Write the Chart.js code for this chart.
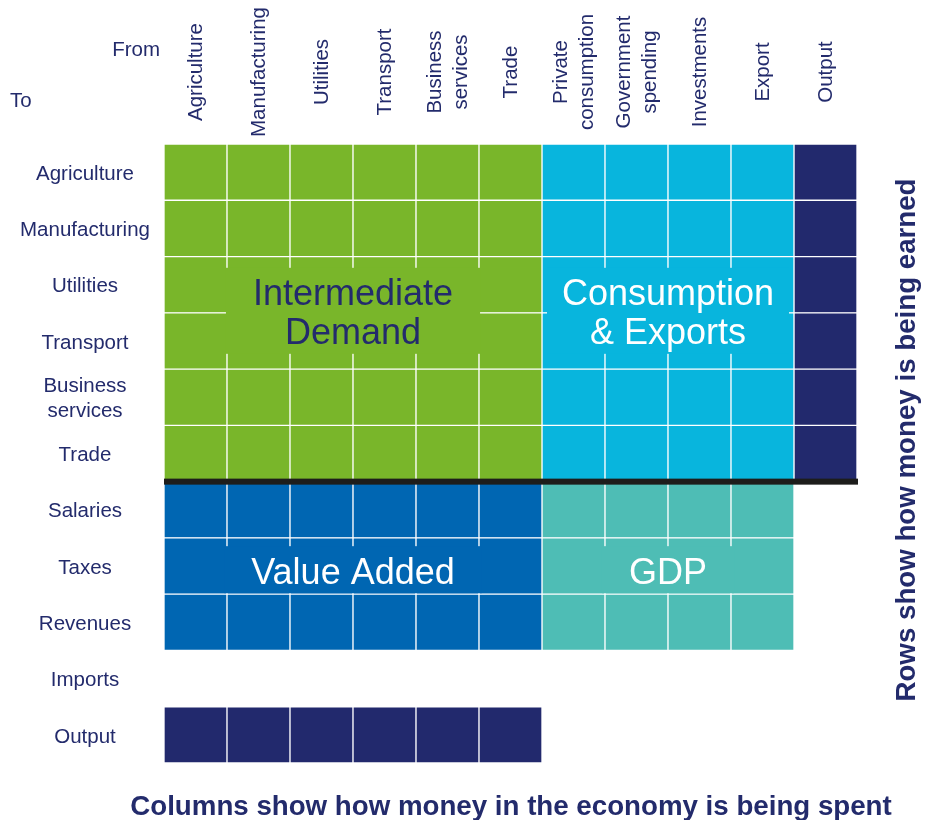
<!DOCTYPE html>
<html>
<head>
<meta charset="utf-8">
<script src="https://cdn.jsdelivr.net/npm/chart.js@4.4.1/dist/chart.umd.min.js"></script>
<style>
  html, body { margin: 0; padding: 0; background: #fff; }
  #wrap { width: 925px; height: 820px; }
</style>
</head>
<body>
<div id="wrap"><canvas id="io" width="925" height="820"></canvas></div>
<script>
// Input-output table layout
// =========================

var industries = ['Agriculture', 'Manufacturing', 'Utilities', 'Transport', 'Business services', 'Trade'];
var finalUses = ['Private consumption', 'Government spending', 'Investments', 'Export'];
var valueAddedRows = ['Salaries', 'Taxes', 'Revenues'];

var columnLabels = industries.concat(finalUses, ['Output']);
var rowLabels = industries.concat(valueAddedRows, ['Imports', 'Output']);

// which rows x columns each block fills
var intermediateCells = { rows: industries, cols: industries };
var finalDemandCells = { rows: industries, cols: finalUses };
var outputColCells = { rows: industries, cols: ['Output'] };
var valueAddedCells = { rows: valueAddedRows, cols: industries };
var gdpCells = { rows: valueAddedRows, cols: finalUses };
var outputRowCells = { rows: ['Output'], cols: industries };

var blockTitles = {
    intermediate: ['Intermediate', 'Demand'],
    finalDemand: ['Consumption', '& Exports'],
    valueAdded: ['Value Added'],
    gdp: ['GDP']
};

var rowTitle = 'Rows show how money is being earned';
var colTitle = 'Columns show how money in the economy is being spent';

// colours
var GREEN = '#79b62a', CYAN = '#08b5dd', NAVY = '#22296d',
    BLUE = '#0066b2', TEAL = '#4ebdb5', INK = '#232b6c';
var FONT = '"Liberation Sans", Arial, sans-serif';
var NUDGE = 2; // canvas 'middle' sits a little high

function cells(block) {
    var out = [];
    block.rows.forEach(function (r) {
        var ri = rowLabels.indexOf(r);
        block.cols.forEach(function (c) {
            out.push({ x: c, y: [ri, ri + 1] });
        });
    });
    return out;
}

function dataset(label, block, color) {
    return {
        label: label,
        data: cells(block),
        backgroundColor: color,
        borderColor: '#ffffff',
        borderWidth: 1,
        borderSkipped: false,
        grouped: false,
        categoryPercentage: 1,
        barPercentage: 1
    };
}

// block title boxes, centred in scale units, kept inside their block
var titleBoxes = [
    { lines: blockTitles.intermediate, block: intermediateCells, x: 2.5, y: 3, fill: GREEN, color: INK },
    { lines: blockTitles.finalDemand, block: finalDemandCells, x: 7.5, y: 3, fill: CYAN, color: '#ffffff' },
    { lines: blockTitles.valueAdded, block: valueAddedCells, x: 2.5, y: 7.6, fill: BLUE, color: '#ffffff' },
    { lines: blockTitles.gdp, block: gdpCells, x: 7.5, y: 7.6, fill: TEAL, color: '#ffffff' }
];

var labelsPlugin = {
    id: 'ioLabels',
    afterDatasetsDraw: function (chart) {
        var ctx = chart.ctx, xs = chart.scales.x, ys = chart.scales.y, area = chart.chartArea;
        ctx.save();

        // title boxes hide the grid lines behind the text
        titleBoxes.forEach(function (b) {
            ctx.font = '36px ' + FONT;
            var w = 0;
            b.lines.forEach(function (l) { w = Math.max(w, ctx.measureText(l).width); });
            var cx = xs.getPixelForValue(b.x), cy = ys.getPixelForValue(b.y);
            var lh = 39, h = b.lines.length * lh + 8;
            var c0 = columnLabels.indexOf(b.block.cols[0]);
            var c1 = columnLabels.indexOf(b.block.cols[b.block.cols.length - 1]);
            var left = Math.max(cx - w / 2 - 27, xs.getPixelForValue(c0 - 0.5) + 5);
            var right = Math.min(cx + w / 2 + 27, xs.getPixelForValue(c1 + 0.5) - 5);
            ctx.fillStyle = b.fill;
            ctx.fillRect(left, cy - h / 2 - 2, right - left, h);
            ctx.fillStyle = b.color;
            ctx.textAlign = 'center';
            ctx.textBaseline = 'middle';
            b.lines.forEach(function (l, i) {
                ctx.fillText(l, cx, cy + NUDGE + (i - (b.lines.length - 1) / 2) * lh);
            });
        });

        // separator between intermediate and primary inputs
        var sy = ys.getPixelForValue(industries.length);
        ctx.fillStyle = '#1d1d1b';
        ctx.fillRect(area.left, sy - 3, area.right - area.left + 1, 6);

        ctx.fillStyle = INK;
        ctx.font = '20.5px ' + FONT;
        ctx.textAlign = 'center';
        ctx.textBaseline = 'middle';

        // row labels
        rowLabels.forEach(function (r, i) {
            var lines = r.split(' ');
            var cy = ys.getPixelForValue(i + 0.5) + NUDGE;
            lines.forEach(function (l, k) {
                ctx.fillText(l, 85, cy + (k - (lines.length - 1) / 2) * 25);
            });
        });

        // column labels, rotated
        columnLabels.forEach(function (c, i) {
            var lines = c.split(' ');
            ctx.save();
            ctx.translate(xs.getPixelForValue(i), 72);
            ctx.rotate(-Math.PI / 2);
            lines.forEach(function (l, k) {
                ctx.fillText(l, 0, 1 + (k - (lines.length - 1) / 2) * 26);
            });
            ctx.restore();
        });

        ctx.textAlign = 'right';
        ctx.fillText('From', 160, 48 + NUDGE);
        ctx.textAlign = 'left';
        ctx.fillText('To', 10, 99 + NUDGE);

        // axis titles
        ctx.font = 'bold 27.7px ' + FONT;
        ctx.textAlign = 'center';
        ctx.fillText(colTitle, 511, 805 + NUDGE);
        ctx.save();
        ctx.translate(907, 440);
        ctx.rotate(-Math.PI / 2);
        ctx.fillText(rowTitle, 0, 0);
        ctx.restore();

        ctx.restore();
    }
};

new Chart(document.getElementById('io'), {
    type: 'bar',
    data: {
        labels: columnLabels,
        datasets: [
            dataset('Intermediate Demand', intermediateCells, GREEN),
            dataset('Consumption & Exports', finalDemandCells, CYAN),
            dataset('Output', outputColCells, NAVY),
            dataset('Value Added', valueAddedCells, BLUE),
            dataset('GDP', gdpCells, TEAL),
            dataset('Output row', outputRowCells, NAVY)
        ]
    },
    options: {
        responsive: false,
        animation: false,
        devicePixelRatio: 1,
        layout: { padding: { left: 164, right: 68, top: 144, bottom: 57 } },
        plugins: { legend: { display: false }, tooltip: { enabled: false } },
        scales: {
            x: { type: 'category', display: false, offset: true },
            y: { type: 'linear', display: false, reverse: true, min: 0, max: rowLabels.length }
        }
    },
    plugins: [labelsPlugin]
});
</script>
</body>
</html>
